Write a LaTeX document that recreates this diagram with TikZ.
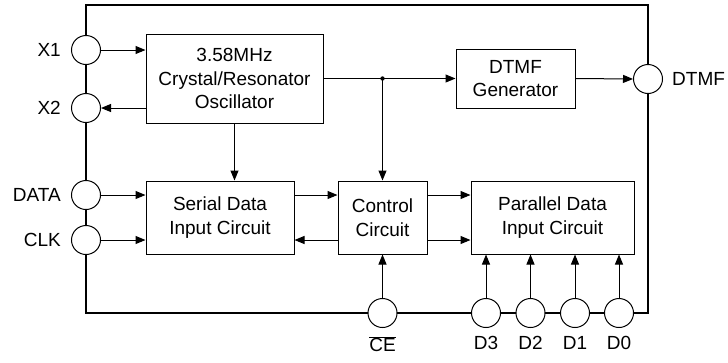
\documentclass[tikz,border=0pt]{standalone}
\usepackage{fontspec}
\setmainfont{Liberation Sans}
\usetikzlibrary{positioning, arrows.meta, calc}

\begin{document}
\begin{tikzpicture}[x=1pt, y=-1pt,
    font=\fontsize{19}{23.5}\selectfont,
    block/.style={rectangle, draw, black, line width=1pt, align=center, inner sep=0pt},
    pin/.style={circle, draw, black, line width=1pt, fill=white, minimum size=29pt, inner sep=0pt},
    pinlabel/.style={inner sep=0pt},
    wire/.style={draw, black, line width=1pt, -{Triangle[length=10pt, width=8pt]}},
    frame/.style={draw, black, line width=1.6pt}]

    \useasboundingbox (0,0) rectangle (728,362);

    % Outer package outline
    \draw[frame] (86,5) rectangle (648,313);

    % Functional blocks
    \node[block, minimum width=177pt, minimum height=89pt] (osc) at (234.5,78.5) {3.58MHz\\Crystal/Resonator\\Oscillator};
    \node[block, minimum width=119pt, minimum height=59pt] (gen) at (515.5,78.5) {DTMF\\Generator};
    \node[block, minimum width=148pt, minimum height=73pt] (serial) at (220,217.5) {Serial Data\\Input Circuit};
    \node[block, minimum width=89pt, minimum height=73pt] (ctrl) at (382.5,217.5) {Control\\Circuit};
    \node[block, minimum width=163pt, minimum height=73pt] (par) at (552.5,217.5) {Parallel Data\\Input Circuit};

    % Pins on the left side
    \node[pin, label={[pinlabel, label distance=10pt]left:X1}] (x1) at (86,50) {};
    \node[pin, label={[pinlabel, label distance=10pt]left:X2}] (x2) at (86,108) {};
    \node[pin, label={[pinlabel, label distance=10pt]left:DATA}] (data) at (86,195) {};
    \node[pin, label={[pinlabel, label distance=10pt]left:CLK}] (clk) at (86,240) {};

    % Output pin on the right side
    \node[pin, label={[pinlabel, label distance=9pt]right:DTMF}] (dtmf) at (648,79) {};

    % Pins along the bottom
    \node[pin, label={[pinlabel, label distance=8pt]below:$\overline{\mbox{CE}}$}] (ce) at (382.5,313) {};
    \node[pin, label={[pinlabel, label distance=8pt]below:D3}] (d3) at (486,313) {};
    \node[pin, label={[pinlabel, label distance=8pt]below:D2}] (d2) at (530.5,313) {};
    \node[pin, label={[pinlabel, label distance=8pt]below:D1}] (d1) at (575,313) {};
    \node[pin, label={[pinlabel, label distance=8pt]below:D0}] (d0) at (619,313) {};

    % Oscillator connections
    \draw[wire] (x1.east) -- (x1.east -| osc.west);
    \draw[wire] (osc.west |- x2) -- (x2.east);
    \draw[wire] (osc.south) -- (osc.south |- serial.north);
    \coordinate (jn) at (osc.east -| ctrl.north);
    \draw[wire] (osc.east) -- (gen.west);
    \draw[wire] (jn) -- (ctrl.north);
    \fill (jn) circle (2.2pt);
    \draw[wire] (gen.east) -- (dtmf.west);

    % Serial inputs
    \draw[wire] (data.east) -- (data.east -| serial.west);
    \draw[wire] (clk.east) -- (clk.east -| serial.west);

    % Between serial, control and parallel blocks
    \draw[wire] (serial.east |- data) -- (ctrl.west |- data);
    \draw[wire] (ctrl.west |- clk) -- (serial.east |- clk);
    \draw[wire] (ctrl.east |- data) -- (par.west |- data);
    \draw[wire] (ctrl.east |- clk) -- (par.west |- clk);

    % Chip enable and parallel data pins
    \draw[wire] (ce.north) -- (ctrl.south);
    \draw[wire] (d3.north) -- (d3.north |- par.south);
    \draw[wire] (d2.north) -- (d2.north |- par.south);
    \draw[wire] (d1.north) -- (d1.north |- par.south);
    \draw[wire] (d0.north) -- (d0.north |- par.south);

\end{tikzpicture}
\end{document}
